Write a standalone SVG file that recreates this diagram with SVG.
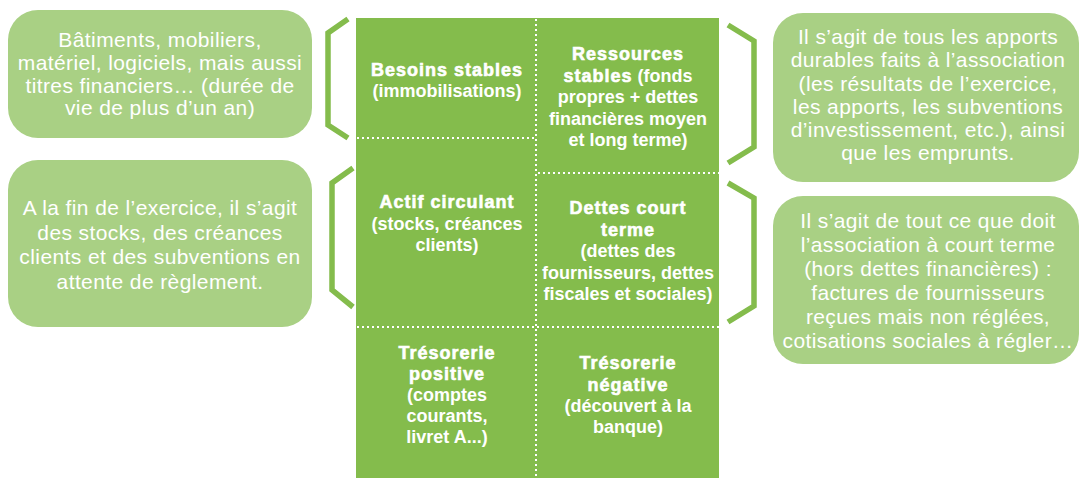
<svg xmlns="http://www.w3.org/2000/svg" width="1080" height="478" viewBox="0 0 1080 478">
<style>
.box{fill:#a9d084}
.grid{fill:#84bc4c}
.dot{stroke:#fff;stroke-width:2;stroke-dasharray:2 3;fill:none}
.brace{stroke:#84bc4c;stroke-width:5.5;fill:none;stroke-linejoin:miter}
.t{font-family:"Liberation Sans",Arial,sans-serif;font-size:21px;letter-spacing:0.4px;fill:#fff;text-anchor:middle}
.c{font-family:"Liberation Sans",Arial,sans-serif;font-size:18px;font-weight:bold;fill:#fff;text-anchor:middle}
.h{letter-spacing:1px;stroke:#fff;stroke-width:0.6}
</style>
<rect width="1080" height="478" fill="#fff"/>
<g id="grid">
<rect class="grid" x="356" y="18" width="363" height="460"/>
<line class="dot" x1="536" y1="19" x2="536" y2="478"/>
<line class="dot" x1="357" y1="138" x2="536" y2="138"/>
<line class="dot" x1="538" y1="173" x2="719" y2="173"/>
<line class="dot" x1="357" y1="327" x2="719" y2="327"/>
</g>
<g id="besoins-stables">
<text class="c"><tspan class="h" x="447" y="76">Besoins stables</tspan><tspan x="447" y="97">(immobilisations)</tspan></text>
</g>
<g id="ressources-stables">
<text class="c"><tspan class="h" x="628" y="60">Ressources</tspan><tspan x="628" y="81.5"><tspan class="h">stables</tspan> (fonds</tspan><tspan x="628" y="103">propres + dettes</tspan><tspan x="628" y="124.5">financières moyen</tspan><tspan x="628" y="146">et long terme)</tspan></text>
</g>
<g id="actif-circulant">
<text class="c"><tspan class="h" x="447" y="208">Actif circulant</tspan><tspan x="447" y="229.5">(stocks, créances</tspan><tspan x="447" y="251">clients)</tspan></text>
</g>
<g id="dettes-court-terme">
<text class="c"><tspan class="h" x="628" y="214">Dettes court</tspan><tspan class="h" x="628" y="235.5">terme</tspan><tspan x="628" y="257">(dettes des</tspan><tspan x="628" y="278.5">fournisseurs, dettes</tspan><tspan x="628" y="300">fiscales et sociales)</tspan></text>
</g>
<g id="tresorerie-positive">
<text class="c"><tspan class="h" x="447" y="359">Trésorerie</tspan><tspan class="h" x="447" y="380">positive</tspan><tspan x="447" y="401">(comptes</tspan><tspan x="447" y="422">courants,</tspan><tspan x="447" y="443">livret A...)</tspan></text>
</g>
<g id="tresorerie-negative">
<text class="c"><tspan class="h" x="628" y="369">Trésorerie</tspan><tspan class="h" x="628" y="390.5">négative</tspan><tspan x="628" y="411.5">(découvert à la</tspan><tspan x="628" y="432.5">banque)</tspan></text>
</g>
<g id="note-immobilisations">
<rect class="box" x="8" y="10" width="304" height="128" rx="30"/>
<text class="t"><tspan x="160" y="47">Bâtiments, mobiliers,</tspan><tspan x="160" y="70">matériel, logiciels, mais aussi</tspan><tspan x="160" y="92.5">titres financiers… (durée de</tspan><tspan x="160" y="115">vie de plus d’un an)</tspan></text>
</g>
<g id="note-actif-circulant">
<rect class="box" x="8" y="160" width="304" height="167" rx="30"/>
<text class="t"><tspan x="160" y="215">A la fin de l’exercice, il s’agit</tspan><tspan x="160" y="239.5">des stocks, des créances</tspan><tspan x="160" y="264">clients et des subventions en</tspan><tspan x="160" y="288.5">attente de règlement.</tspan></text>
</g>
<g id="note-ressources">
<rect class="box" x="773" y="13" width="306" height="169" rx="30"/>
<text class="t"><tspan x="928" y="44">Il s’agit de tous les apports</tspan><tspan x="928" y="67">durables faits à l’association</tspan><tspan x="928" y="90.5">(les résultats de l’exercice,</tspan><tspan x="928" y="113.5">les apports, les subventions</tspan><tspan x="928" y="137">d’investissement, etc.), ainsi</tspan><tspan x="928" y="160">que les emprunts.</tspan></text>
</g>
<g id="note-dettes">
<rect class="box" x="773" y="196" width="306" height="168" rx="30"/>
<text class="t"><tspan x="928" y="228">Il s’agit de tout ce que doit</tspan><tspan x="928" y="252">l’association à court terme</tspan><tspan x="928" y="276">(hors dettes financières) :</tspan><tspan x="928" y="300">factures de fournisseurs</tspan><tspan x="928" y="324">reçues mais non réglées,</tspan><tspan x="928" y="348">cotisations sociales à régler…</tspan></text>
</g>
<g id="connectors">
<polyline class="brace" points="348,19 328,33 328,125 348,138"/>
<polyline class="brace" points="353,168 332,183 332,290 353,307"/>
<polyline class="brace" points="728,25 754,41 754,147 728,163"/>
<polyline class="brace" points="728,183 754,198 754,306 728,322"/>
</g>
</svg>
